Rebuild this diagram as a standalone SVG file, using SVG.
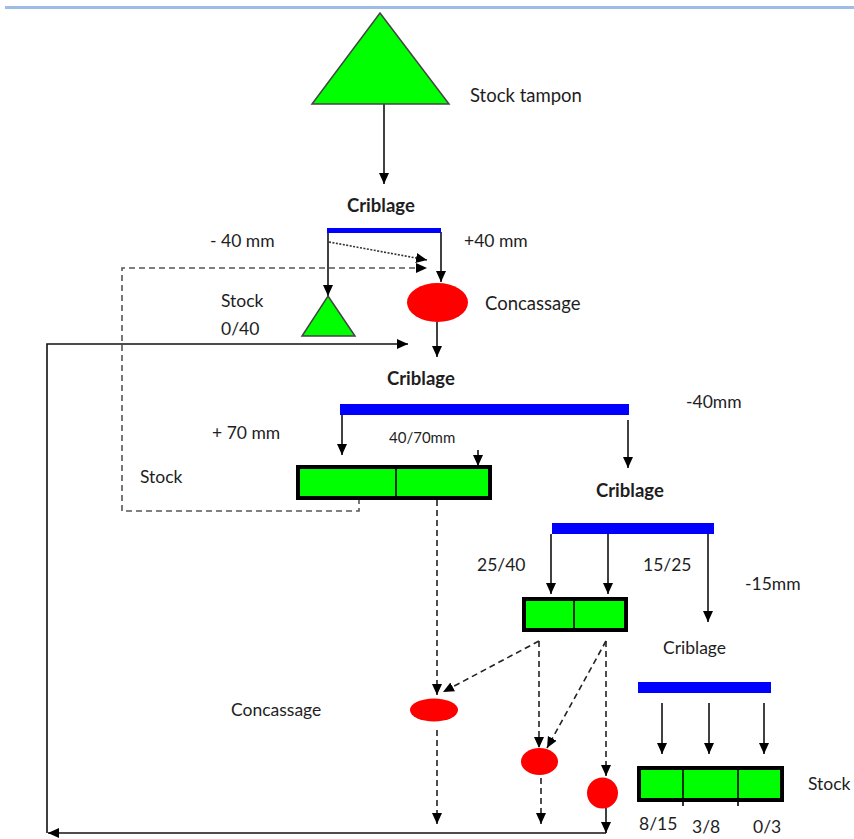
<svg xmlns="http://www.w3.org/2000/svg" width="854" height="839" viewBox="0 0 854 839">
<style>
.t{font-family:Lato,"Liberation Sans",sans-serif;font-size:17.5px;fill:#1e1e1e}
.b{font-weight:bold;font-size:18.5px}
.ln{stroke:#111;stroke-width:1.6;fill:none}
.da{stroke:#222;stroke-width:1.6;fill:none;stroke-dasharray:6,4}
.dg{stroke:#555;stroke-width:1.6;fill:none;stroke-dasharray:6,4}
.do{stroke:#333;stroke-width:1.6;fill:none;stroke-dasharray:2,1.5}
.tri{fill:#00ff00;stroke:#444;stroke-width:1.5}
.box{fill:#00ff00;stroke:#000;stroke-width:4}
.div{stroke:#000;stroke-width:1.6}
.bar{fill:#0000ff}
.red{fill:#ff0000}
</style>
<defs>
<marker id="ah" markerUnits="userSpaceOnUse" markerWidth="12" markerHeight="12" viewBox="0 0 12 12" refX="11" refY="6" orient="auto">
<path d="M0,1 L11,6 L0,11 Z" fill="#000"/>
</marker>
</defs>
<rect x="5" y="6" width="849" height="3" fill="#9dbde6"/>

<g id="connectors">
<line class="ln" x1="384" y1="104" x2="384" y2="184" marker-end="url(#ah)"/>
<line class="ln" x1="328" y1="232" x2="328" y2="296" marker-end="url(#ah)"/>
<line class="ln" x1="441" y1="232" x2="441" y2="282" marker-end="url(#ah)"/>
<line class="do" x1="329" y1="242" x2="427" y2="260" marker-end="url(#ah)"/>
<polyline class="dg" points="359,498 359,511 122,511 122,268 427,268" marker-end="url(#ah)"/>
<polyline class="ln" points="47,833 47,344 408,344" marker-end="url(#ah)"/>
<line class="ln" x1="437" y1="322" x2="437" y2="357" marker-end="url(#ah)"/>
<line class="ln" x1="342" y1="415" x2="342" y2="455" marker-end="url(#ah)"/>
<line class="ln" x1="478" y1="450" x2="478" y2="466" marker-end="url(#ah)"/>
<line class="ln" x1="628" y1="420" x2="628" y2="468" marker-end="url(#ah)"/>
<line class="da" x1="437" y1="500" x2="437" y2="695" marker-end="url(#ah)"/>
<line class="ln" x1="551" y1="534" x2="551" y2="594" marker-end="url(#ah)"/>
<line class="ln" x1="608" y1="534" x2="608" y2="594" marker-end="url(#ah)"/>
<line class="ln" x1="708" y1="534" x2="708" y2="622" marker-end="url(#ah)"/>
<line class="da" x1="539" y1="641" x2="443" y2="692" marker-end="url(#ah)"/>
<line class="da" x1="539" y1="641" x2="539" y2="748" marker-end="url(#ah)"/>
<line class="da" x1="606" y1="641" x2="547" y2="748" marker-end="url(#ah)"/>
<line class="da" x1="606" y1="641" x2="606" y2="776" marker-end="url(#ah)"/>
<line class="da" x1="437" y1="730" x2="437" y2="824" marker-end="url(#ah)"/>
<line class="da" x1="541" y1="778" x2="541" y2="824" marker-end="url(#ah)"/>
<line class="ln" x1="606" y1="808" x2="606" y2="833" marker-end="url(#ah)"/>
<line class="ln" x1="606" y1="833" x2="48" y2="833" marker-end="url(#ah)"/>
<line class="ln" x1="662" y1="703" x2="662" y2="754" marker-end="url(#ah)"/>
<line class="ln" x1="709" y1="703" x2="709" y2="754" marker-end="url(#ah)"/>
<line class="ln" x1="764" y1="703" x2="764" y2="754" marker-end="url(#ah)"/>
</g>

<g id="stock-tampon">
<polygon class="tri" points="380,13 449,104 312,104"/>
<text class="t" x="470" y="102" style="font-size:18.5px">Stock tampon</text>
</g>
<g id="criblage1">
<text class="t b" x="347" y="212">Criblage</text>
<rect class="bar" x="327" y="228" width="114" height="5"/>
<text class="t" x="210" y="247">- 40 mm</text>
<text class="t" x="464" y="247">+40 mm</text>
</g>
<g id="stock-040">
<polygon class="tri" points="328,296 355,336 302,336"/>
<text class="t" x="221" y="307">Stock</text>
<text class="t" x="221" y="335">0/40</text>
</g>
<g id="concassage1">
<ellipse class="red" cx="437.5" cy="302.5" rx="30.5" ry="19.5"/>
<text class="t" x="485" y="310" style="font-size:18.5px">Concassage</text>
</g>
<g id="criblage2">
<text class="t b" x="387" y="385">Criblage</text>
<rect class="bar" x="340" y="404" width="289" height="11"/>
<text class="t" x="212" y="439">+ 70 mm</text>
<text class="t" x="389" y="443" style="font-size:15px">40/70mm</text>
<text class="t" x="686" y="408">-40mm</text>
</g>
<g id="stock-70">
<rect class="box" x="298" y="467" width="192" height="31"/>
<line class="div" x1="396" y1="467" x2="396" y2="498"/>
<text class="t" x="140" y="483">Stock</text>
</g>
<g id="criblage3">
<text class="t b" x="596" y="497">Criblage</text>
<rect class="bar" x="552" y="523" width="162" height="11"/>
<text class="t" x="477" y="571">25/40</text>
<text class="t" x="643" y="571">15/25</text>
<text class="t" x="745" y="590">-15mm</text>
</g>
<g id="stock-2540">
<rect class="box" x="524" y="599" width="102" height="31"/>
<line class="div" x1="574" y1="599" x2="574" y2="630"/>
</g>
<g id="concassage2">
<ellipse class="red" cx="434" cy="710" rx="24" ry="11.5"/>
<text class="t" x="231" y="716">Concassage</text>
</g>
<g id="concassage3">
<ellipse class="red" cx="539.5" cy="761.5" rx="18.5" ry="13.5"/>
</g>
<g id="concassage4">
<circle class="red" cx="602.5" cy="793" r="15.5"/>
</g>
<g id="criblage4">
<text class="t" x="663" y="654">Criblage</text>
<rect class="bar" x="638" y="682" width="133" height="11"/>
</g>
<g id="stock-final">
<rect class="box" x="639" y="768" width="143" height="32"/>
<line class="div" x1="683" y1="768" x2="683" y2="806"/>
<line class="div" x1="738" y1="768" x2="738" y2="806"/>
<text class="t" x="808" y="790">Stock</text>
<text class="t" x="639" y="830">8/15</text>
<text class="t" x="692" y="833">3/8</text>
<text class="t" x="753" y="833">0/3</text>
</g>
</svg>
